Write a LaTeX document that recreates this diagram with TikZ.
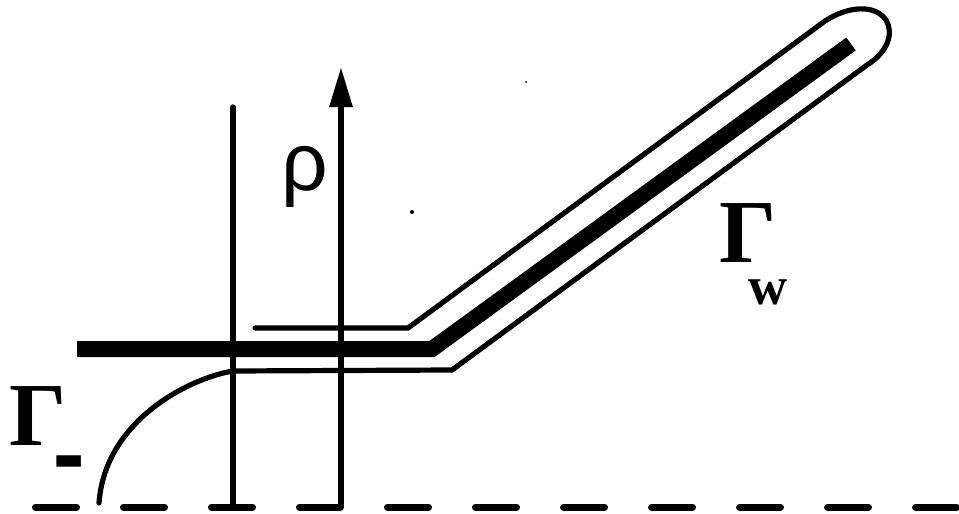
\documentclass[tikz,border=0pt]{standalone}
\usepackage{fontspec}
\setmainfont{Liberation Serif}
\newfontfamily\rhofont{Liberation Sans}
\newfontfamily\barfont{DejaVu Sans}
\usetikzlibrary{arrows.meta}
\tikzset{
  thin wire/.style={line width=2.6pt, line cap=round},
  plate/.style={line width=8pt, line join=miter},
  axisline/.style={line width=3pt, -{Triangle[length=20pt,width=11pt]}},
  ground dash/.style={line width=3.5pt, line cap=round, dash pattern=on 20.5pt off 23.5pt},
  glabel/.style={inner sep=0pt, anchor=base west, font=\bfseries\fontsize{45}{50}\selectfont}
}
\begin{document}
\begin{tikzpicture}[x=0.5pt,y=-0.5pt]
  \useasboundingbox (0,0) rectangle (959,514);
  % ground line
  \draw[ground dash] (35.5,507) -- (959,507);
  % cut line and rho axis
  \coordinate (cutbot) at (233,507);
  \coordinate (cuttop) at (233,107);
  \coordinate (rhobot) at (341,507);
  \coordinate (rhotop) at (341,67);
  \draw[thin wire] (cutbot) -- (cuttop);
  \draw[axisline] (rhobot) -- (rhotop);
  % thick plate
  \coordinate (pstart) at (77,349);
  \coordinate (pbend) at (432,349);
  \coordinate (pend) at (851,44);
  \draw[plate] (pstart) -- (pbend) -- (pend);
  % contour round the plate, running into Gamma_-
  \draw[thin wire] (255,328) -- (408,328) -- (825,21)
    .. controls (848,6) and (875,4) .. (886,20)
    .. controls (894,33) and (888,52) .. (867,65)
    -- (452,370) -- (233,371)
    .. controls (190,378) and (105,420) .. (99,503);
  % specks
  \fill (412,212) circle (2);
  \fill (526,82) circle (1);
  % labels
  \node[inner sep=0pt, anchor=base west, font=\rhofont\fontsize{41}{44}\selectfont] (rho) at (281,190) {ρ};
  \node[glabel] (gw) at (719,262) {Γ\kern-14pt\raisebox{-21pt}{\fontsize{27}{30}\selectfont w}};
  \node[glabel] (gminus) at (9,445) {Γ\kern-7pt\raisebox{-19.5pt}{\barfont\bfseries\fontsize{40}{42}\selectfont -}};
\end{tikzpicture}
\end{document}
